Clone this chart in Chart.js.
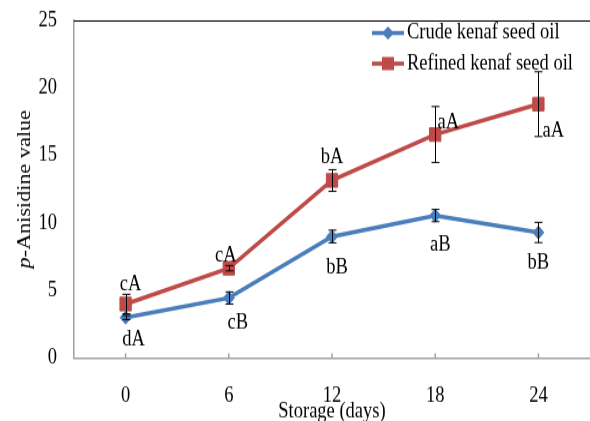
<!DOCTYPE html>
<html>
<head>
<meta charset="utf-8">
<script src="https://cdn.jsdelivr.net/npm/chart.js@4.4.0/dist/chart.umd.min.js"></script>
<style>
  body { margin: 0; background: #fff; }
  canvas { display: block; }
</style>
</head>
<body>
<!-- drawn at 590x351 and shown 590x421: the original figure is stretched vertically -->
<canvas id="chart" width="590" height="351" style="width:590px;height:421px"></canvas>
<script>
// storage days on the x axis
const days = ['0', '6', '12', '18', '24'];
// p-Anisidine values
const crudeValues = [3.0, 4.45, 9.0, 10.55, 9.3];
const refinedValues = [4.0, 6.65, 13.15, 16.55, 18.8];
// standard deviations (error bars)
const crudeErr = [0.15, 0.45, 0.47, 0.45, 0.75];
const refinedErr = [0.72, 0.2, 0.8, 2.07, 2.4];
// significance letters
const crudeLetters = ['dA', 'cB', 'bB', 'aB', 'bB'];
const refinedLetters = ['cA', 'cA', 'bA', 'aA', 'aA'];
const yTicks = [0, 5, 10, 15, 20, 25];

const blue = '#4a7ebb';
const red = '#be4b48';
const serif = 'Liberation Serif';
const fontSize = 18.5;

// pixel offsets of the letters from their points (canvas pixels)
const crudeLetterOffsets = [[8, 18], [9, 21], [5, 26], [5, 24], [0, 25]];
const refinedLetterOffsets = [[5, -16], [-3, -10], [0, -19], [13, -10], [15, 22]];

const errorBars = {
  id: 'errorBars',
  afterDatasetsDraw(chart) {
    const ctx = chart.ctx;
    const y = chart.scales.y;
    ctx.save();
    ctx.strokeStyle = '#000';
    ctx.lineWidth = 1;
    chart.data.datasets.forEach((ds, i) => {
      const meta = chart.getDatasetMeta(i);
      meta.data.forEach((pt, j) => {
        const x = Math.round(pt.x) + 0.5;
        const top = y.getPixelForValue(ds.data[j] + ds.err[j]);
        const bot = y.getPixelForValue(ds.data[j] - ds.err[j]);
        ctx.beginPath();
        ctx.moveTo(x, top); ctx.lineTo(x, bot);
        ctx.moveTo(x - 4, top); ctx.lineTo(x + 4, top);
        ctx.moveTo(x - 4, bot); ctx.lineTo(x + 4, bot);
        ctx.stroke();
      });
    });
    ctx.restore();
  }
};

const letters = {
  id: 'letters',
  afterDatasetsDraw(chart) {
    const ctx = chart.ctx;
    ctx.save();
    ctx.font = fontSize + 'px "' + serif + '"';
    ctx.fillStyle = '#000';
    ctx.textAlign = 'center';
    ctx.textBaseline = 'middle';
    chart.data.datasets.forEach((ds, i) => {
      const meta = chart.getDatasetMeta(i);
      meta.data.forEach((pt, j) => {
        const off = ds.letterOffsets[j];
        ctx.fillText(ds.letters[j], pt.x + off[0], pt.y + off[1]);
      });
    });
    ctx.restore();
  }
};

const frame = {
  id: 'frame',
  afterDraw(chart) {
    const ctx = chart.ctx;
    const area = chart.chartArea;
    const x = chart.scales.x;
    ctx.save();
    // black top line
    ctx.strokeStyle = '#000';
    ctx.lineWidth = 1;
    ctx.beginPath();
    ctx.moveTo(area.left, area.top + 0.5);
    ctx.lineTo(area.right, area.top + 0.5);
    ctx.stroke();
    // small tick marks on the x axis, pointing up
    ctx.strokeStyle = '#a0a0a0';
    ctx.lineWidth = 1.5;
    days.forEach((d, i) => {
      const px = x.getPixelForValue(i);
      ctx.beginPath();
      ctx.moveTo(px, area.bottom);
      ctx.lineTo(px, area.bottom - 4);
      ctx.stroke();
    });

    // y axis title with italic p
    ctx.translate(25, (area.top + area.bottom) / 2);
    ctx.rotate(-Math.PI / 2);
    ctx.fillStyle = '#000';
    ctx.textBaseline = 'middle';
    ctx.textAlign = 'left';
    const italic = 'italic ' + fontSize + 'px "' + serif + '"';
    const normal = fontSize + 'px "' + serif + '"';
    ctx.font = italic;
    const w1 = ctx.measureText('p').width;
    ctx.font = normal;
    const w2 = ctx.measureText('-Anisidine value').width;
    const start = -(w1 + w2) / 2;
    ctx.font = italic;
    ctx.fillText('p', start, 0);
    ctx.font = normal;
    ctx.fillText('-Anisidine value', start + w1, 0);
    ctx.restore();

    // legend
    ctx.save();
    const rows = [
      { text: 'Crude kenaf seed oil', color: blue, shape: 'diamond', y: 27.5 },
      { text: 'Refined kenaf seed oil', color: red, shape: 'square', y: 53 }
    ];
    rows.forEach(r => {
      ctx.strokeStyle = r.color;
      ctx.fillStyle = r.color;
      ctx.lineWidth = 3.5;
      ctx.beginPath();
      ctx.moveTo(372, r.y);
      ctx.lineTo(404, r.y);
      ctx.stroke();
      ctx.beginPath();
      if (r.shape === 'diamond') {
        ctx.moveTo(388, r.y - 5.5); ctx.lineTo(394, r.y);
        ctx.lineTo(388, r.y + 5.5); ctx.lineTo(382, r.y);
      } else {
        ctx.rect(382, r.y - 5.5, 12, 11);
      }
      ctx.closePath();
      ctx.fill();
      ctx.fillStyle = '#000';
      ctx.font = fontSize + 'px "' + serif + '"';
      ctx.textAlign = 'left';
      ctx.textBaseline = 'middle';
      ctx.fillText(r.text, 407, r.y);
    });
    ctx.restore();
  }
};

new Chart(document.getElementById('chart'), {
  type: 'line',
  data: {
    labels: days,
    datasets: [
      {
        label: 'Crude kenaf seed oil',
        data: crudeValues,
        err: crudeErr,
        letters: crudeLetters,
        letterOffsets: crudeLetterOffsets,
        borderColor: blue,
        backgroundColor: blue,
        borderWidth: 3.5,
        pointStyle: 'rectRot',
        pointRadius: 5.5,
        pointBorderWidth: 1,
        tension: 0
      },
      {
        label: 'Refined kenaf seed oil',
        data: refinedValues,
        err: refinedErr,
        letters: refinedLetters,
        letterOffsets: refinedLetterOffsets,
        borderColor: red,
        backgroundColor: red,
        borderWidth: 3.5,
        pointStyle: 'rect',
        pointRadius: 8,
        pointBorderWidth: 1,
        tension: 0
      }
    ]
  },
  options: {
    responsive: false,
    devicePixelRatio: 1,
    animation: false,
    layout: { autoPadding: false, padding: { top: 17, right: -3, left: 0, bottom: 0 } },
    plugins: {
      legend: { display: false },
      tooltip: { enabled: false }
    },
    scales: {
      x: {
        type: 'category',
        offset: true,
        grid: { display: false, drawTicks: false },
        border: { display: true, color: '#a0a0a0', width: 1.5 },
        ticks: { color: '#000', padding: 21, font: { family: serif, size: fontSize } },
        title: {
          display: true,
          text: 'Storage (days)',
          color: '#000',
          padding: { top: 0, bottom: -1 },
          font: { family: serif, size: fontSize, lineHeight: 1 }
        },
        afterFit(scale) {
          scale.height = 52.5;
          scale.paddingLeft = 0;
          scale.paddingRight = 0;
        }
      },
      y: {
        min: 0,
        max: 25,
        afterBuildTicks(scale) { scale.ticks = yTicks.map(v => ({ value: v })); },
        grid: { display: false, drawTicks: false },
        border: { display: true, color: '#a0a0a0', width: 1.5 },
        ticks: { color: '#000', padding: 17, font: { family: serif, size: fontSize } },
        afterFit(scale) {
          scale.width = 74;
          scale.paddingTop = 0;
          scale.paddingBottom = 0;
        }
      }
    }
  },
  plugins: [errorBars, letters, frame]
});
</script>
</body>
</html>
